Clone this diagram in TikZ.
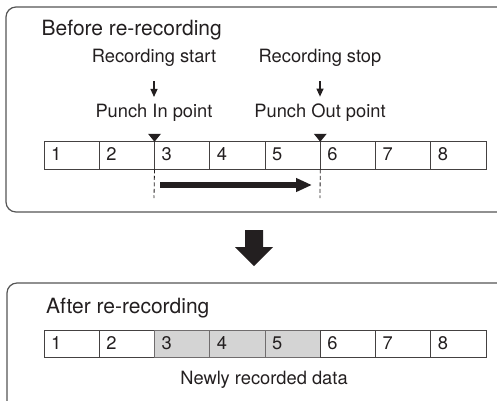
\documentclass[tikz,border=0pt]{standalone}
\usepackage{fontspec}
\setmainfont{TeX Gyre Heros}
\usepackage{tikz}
\usetikzlibrary{arrows.meta,positioning}
\definecolor{ink}{HTML}{231F20}
\definecolor{frame}{HTML}{555555}
\definecolor{newdata}{HTML}{D4D4D4}
\tikzset{
  panel/.style={draw=frame,line width=1.2pt,rounded corners=10pt},
  heading/.style={anchor=base west,inner sep=0pt,text=ink,font=\fontsize{21}{25}\selectfont},
  marktext/.style={anchor=base,inner sep=0pt,text=ink,font=\fontsize{18.3}{22}\selectfont},
  cell/.style={draw=ink!85,line width=.9pt,outer sep=0pt,inner xsep=7pt,inner ysep=2pt,
               text width=41.25pt,align=left,minimum height=27.5pt,text height=13pt,text depth=3pt,
               text=ink,font=\fontsize{18.3}{22}\selectfont},
  newcell/.style={cell,fill=newdata,draw=ink!65},
  pointer/.style={-{Triangle[length=8pt,width=7pt]},line width=1.2pt,draw=ink},
  bigflow/.style={-{Triangle[length=16pt,width=13pt]},line width=5.5pt,draw=ink},
  punchline/.style={draw=ink,line width=.8pt,dash pattern=on 4pt off 2.5pt}
}
\begin{document}
\begin{tikzpicture}[x=1pt,y=-1pt]
  \path[use as bounding box,clip] (0,0) rectangle (497,400);
  % before re-recording
  \draw[panel] (6,7) rectangle (520,212);
  \node[heading] (before) at (41.5,35) {Before re-recording};
  \node[marktext] (recstart) at (154,62) {Recording start};
  \node[marktext] (punchin) at (154,117) {Punch In point};
  \node[marktext] (recstop) at (320,62) {Recording stop};
  \node[marktext] (punchout) at (320,117) {Punch Out point};
  \draw[pointer,shorten <=15pt,shorten >=6.5pt] (recstart) -- (punchin);
  \draw[pointer,shorten <=15pt,shorten >=6.5pt] (recstop) -- (punchout);
  \node[cell,anchor=west] (a1) at (44,155.5) {1};
  \node[cell,right=0pt of a1] (a2) {2};
  \node[cell,right=0pt of a2] (a3) {3};
  \node[cell,right=0pt of a3] (a4) {4};
  \node[cell,right=0pt of a4] (a5) {5};
  \node[cell,right=0pt of a5] (a6) {6};
  \node[cell,right=0pt of a6] (a7) {7};
  \node[cell,right=0pt of a7] (a8) {8};
  \fill[ink] (a3.north west) -- ++(-6.5,-8) -- ++(13,0) -- cycle;
  \fill[ink] (a6.north west) -- ++(-6.5,-8) -- ++(13,0) -- cycle;
  \coordinate (inlow) at (154,198);
  \coordinate (outlow) at (320,198);
  \draw[punchline] (a3.south west) -- (inlow);
  \draw[punchline] (a6.south west) -- (outlow);
  \coordinate (recfrom) at (160,185);
  \coordinate (recto) at (312,185);
  \draw[bigflow] (recfrom) -- (recto);
  % block arrow
  \fill[ink] (245,230) -- (263,230) -- (263,247) -- (273,247) -- (254,266)
    -- (235,247) -- (245,247) -- cycle;
  % after re-recording
  \draw[panel] (7,283) rectangle (520,420);
  \node[heading] (after) at (46,313) {After re-recording};
  \node[cell,anchor=west] (b1) at (44,344) {1};
  \node[cell,right=0pt of b1] (b2) {2};
  \node[newcell,right=0pt of b2] (b3) {3};
  \node[newcell,right=0pt of b3] (b4) {4};
  \node[newcell,right=0pt of b4] (b5) {5};
  \node[cell,right=0pt of b5] (b6) {6};
  \node[cell,right=0pt of b6] (b7) {7};
  \node[cell,right=0pt of b7] (b8) {8};
  \node[marktext] (newly) at (264,384) {Newly recorded data};
\end{tikzpicture}
\end{document}
